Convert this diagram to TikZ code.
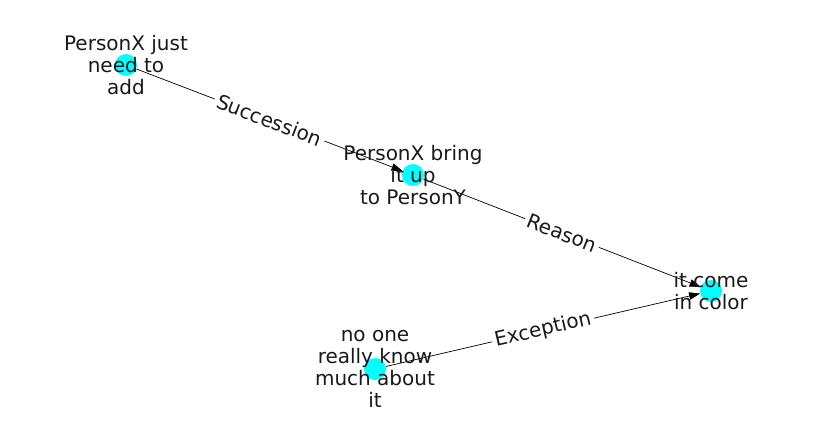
\documentclass[tikz,border=0pt]{standalone}
\usepackage{fontspec}
\setmainfont{DejaVu Sans}
\usetikzlibrary{arrows.meta,positioning}
\definecolor{nodecyan}{RGB}{0,255,255}
\begin{document}
\begin{tikzpicture}[x=1pt,y=-1pt]
		\tikzstyle{every node}=[font=\fontsize{20}{22}\selectfont]
		\tikzstyle{dot}=[circle,fill=nodecyan,inner sep=0pt,minimum size=22pt]
		\tikzstyle{txt}=[align=center,inner sep=0pt,text=black!90]
		\tikzstyle{rel}=[line width=0.7pt,-{Triangle[length=11pt,width=7.5pt]}]
		\tikzstyle{lbl}=[midway,sloped,fill=white,inner sep=3pt,text=black!90]
		\useasboundingbox (0,0) rectangle (837,434);
		\node [dot] (add) at (126,65) {};
		\node [dot] (bring) at (413,175) {};
		\node [dot] (color) at (711,291) {};
		\node [dot] (noone) at (375,369) {};
		\draw [rel] (add) -- (bring) node [lbl] {Succession};
		\draw [rel] (bring) -- (color) node [lbl] {Reason};
		\draw [rel] (noone) -- (color) node [lbl] {Exception};
		\node [txt] at (add) {PersonX just\\need to\\add};
		\node [txt] at (bring) {PersonX bring\\it up\\to PersonY};
		\node [txt] at (color) {it come\\in color};
		\node [txt] at (noone) {no one\\really know\\much about\\it};
	\end{tikzpicture}
\end{document}
